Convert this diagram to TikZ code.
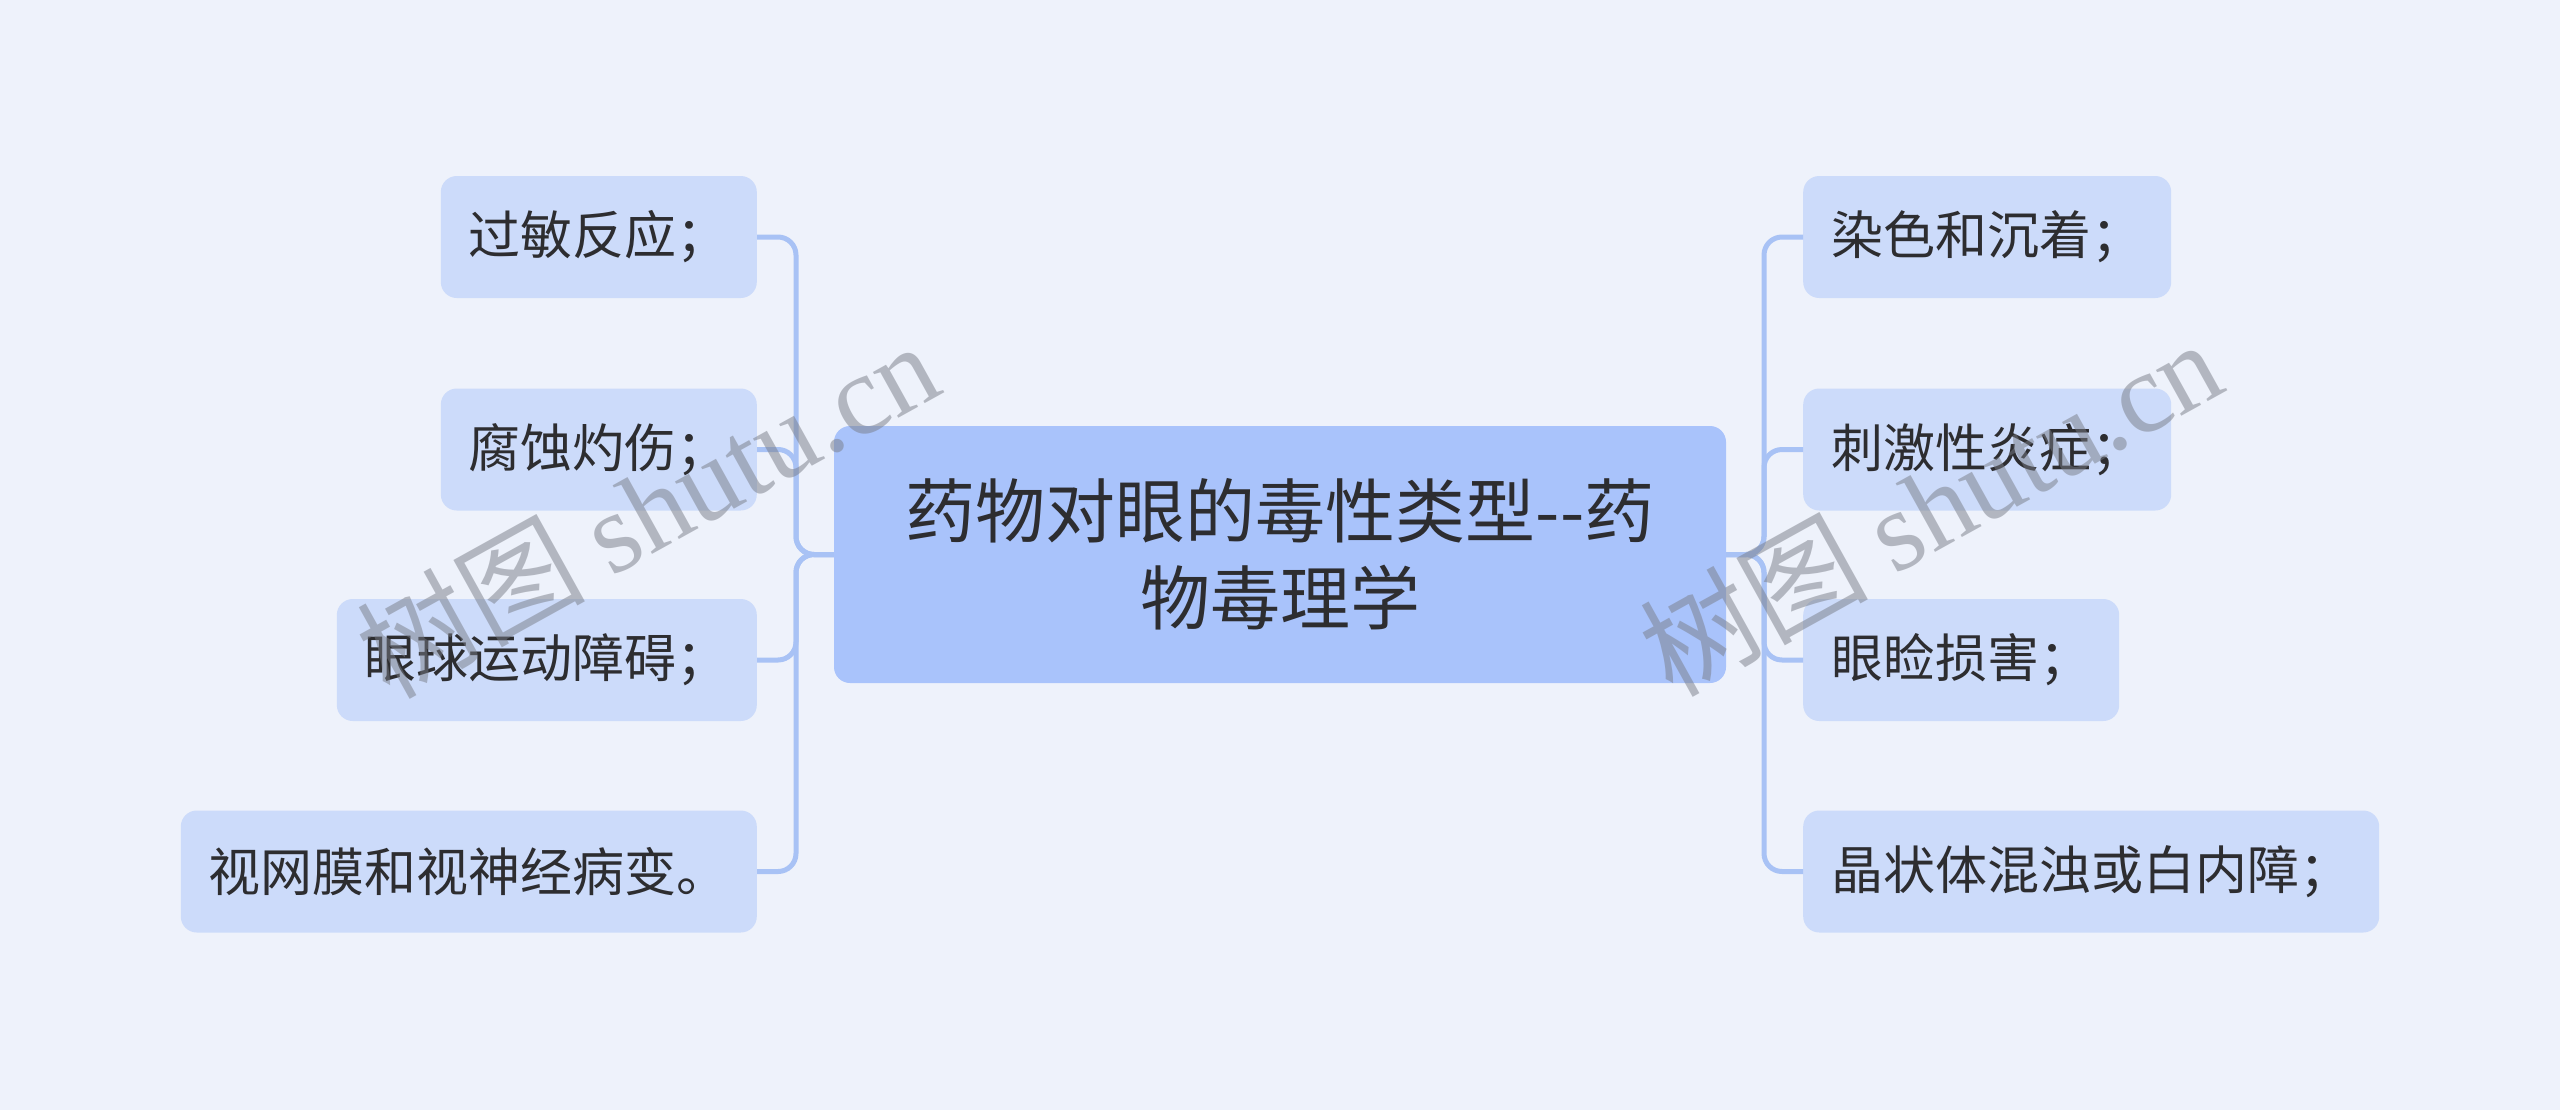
\documentclass[tikz,border=0pt]{standalone}
\usepackage{fontspec}
\newfontfamily\cjk{Noto Sans CJK SC}
\newfontfamily\wmserif{Liberation Serif}
\definecolor{bgc}{RGB}{238,242,251}
\definecolor{leaffill}{RGB}{204,219,250}
\definecolor{rootfill}{RGB}{169,195,251}
\definecolor{linec}{RGB}{168,194,245}
\definecolor{txt}{RGB}{45,45,48}
\definecolor{wm}{RGB}{120,124,134}
\tikzset{
  leaf/.style={fill=leaffill, rounded corners=16bp, minimum height=122bp, inner xsep=28bp, inner ysep=0bp,
    text=txt, font=\cjk\fontsize{52bp}{62bp}\selectfont},
  root/.style={fill=rootfill, rounded corners=16bp, minimum width=892bp, minimum height=257bp,
    text=txt, align=center, font=\cjk\fontsize{70bp}{87bp}\selectfont},
  conn/.style={draw=linec, line width=5bp, rounded corners=18bp},
  watermark/.style={text=wm, opacity=0.5, rotate=29, font=\fontsize{114bp}{120bp}\selectfont}
}
\begin{document}
\begin{tikzpicture}[x=1bp,y=-1bp]
\fill[bgc] (0,0) rectangle (2560,1110);
\useasboundingbox (0,0) rectangle (2560,1110);
\node[root] (root) at (1280,554.5) {药物对眼的毒性类型-\kern0pt-药\\物毒理学};
% left
\node[leaf, anchor=east] (l1) at (757,237) {过敏反应；};
\node[leaf, anchor=east] (l2) at (757,449.5) {腐蚀灼伤；};
\node[leaf, anchor=east] (l3) at (757,660) {眼球运动障碍；};
\node[leaf, anchor=east] (l4) at (757,871.5) {视网膜和视神经病变。};
% right
\node[leaf, anchor=west] (r1) at (1803,237) {染色和沉着；};
\node[leaf, anchor=west] (r2) at (1803,449.5) {刺激性炎症；};
\node[leaf, anchor=west] (r3) at (1803,660) {眼睑损害；};
\node[leaf, anchor=west] (r4) at (1803,871.5) {晶状体混浊或白内障；};
\coordinate (lt) at (796,554.5);
\coordinate (rt) at (1764,554.5);
\foreach \n in {l1,l2,l3,l4} \draw[conn] (root.west) -- (lt) |- (\n.east);
\foreach \n in {r1,r2,r3,r4} \draw[conn] (root.east) -- (rt) |- (\n.west);
\node[watermark] (wm1) at (647,508) {\cjk 树图\ \wmserif shutu.cn};
\node[watermark] (wm2) at (1930,506) {\cjk 树图\ \wmserif shutu.cn};
\end{tikzpicture}
\end{document}
